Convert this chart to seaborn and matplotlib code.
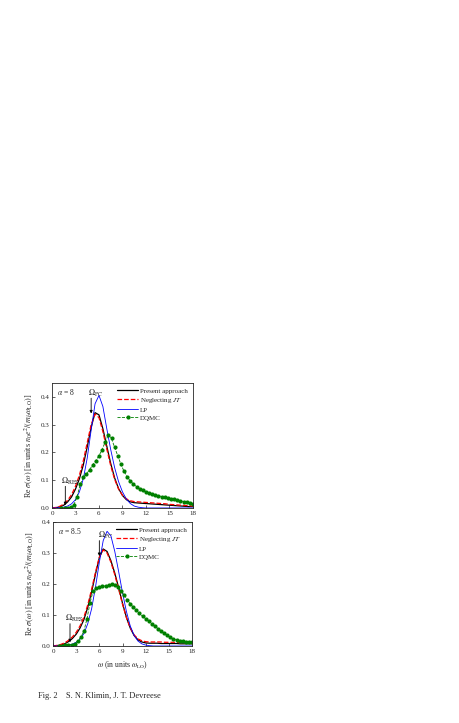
import numpy as np
import pandas as pd
import seaborn as sns
import matplotlib.pyplot as plt

sns.set_style("ticks")
plt.rcParams['font.family'] = ['Liberation Serif', 'DejaVu Serif']
plt.rcParams['mathtext.fontset'] = 'stix'

# smooth curves sampled every 0.5 omega_LO
omega = np.linspace(0, 18, 37)

# alpha = 8
present_8 = [0.000, 0.001, 0.004, 0.010, 0.022, 0.040, 0.068, 0.105, 0.155, 0.220,
             0.290, 0.343, 0.335, 0.285, 0.222, 0.160, 0.108, 0.070, 0.045, 0.030,
             0.022, 0.019, 0.018, 0.017, 0.016, 0.015, 0.014, 0.013, 0.012, 0.011,
             0.010, 0.009, 0.008, 0.007, 0.006, 0.005, 0.005]
neglect_8 = [0.000, 0.002, 0.006, 0.014, 0.028, 0.048, 0.078, 0.118, 0.170, 0.235,
             0.300, 0.338, 0.325, 0.275, 0.212, 0.152, 0.103, 0.068, 0.046, 0.033,
             0.026, 0.023, 0.022, 0.021, 0.020, 0.019, 0.018, 0.017, 0.016, 0.015,
             0.013, 0.012, 0.011, 0.010, 0.009, 0.008, 0.007]
lp_8 = [0.000, 0.000, 0.001, 0.003, 0.007, 0.015, 0.030, 0.058, 0.105, 0.180,
        0.280, 0.375, 0.405, 0.365, 0.285, 0.210, 0.145, 0.095, 0.058, 0.032,
        0.016, 0.007, 0.003, 0.001, 0.000, 0.000, 0.000, 0.000, 0.000, 0.000,
        0.000, 0.000, 0.000, 0.000, 0.000, 0.000, 0.000]
dqmc_x_8 = [1.2, 1.6, 2.0, 2.4, 2.8, 3.2, 3.6, 4.0, 4.4, 4.8, 5.2, 5.6, 6.0, 6.4, 6.8,
            7.2, 7.6, 8.0, 8.4, 8.8, 9.2, 9.6, 10.0, 10.4, 10.8, 11.2, 11.6, 12.0,
            12.4, 12.8, 13.2, 13.6, 14.0, 14.4, 14.8, 15.2, 15.6, 16.0, 16.4, 16.8,
            17.2, 17.6, 18.0]
dqmc_8 = [0.000, 0.000, 0.000, 0.002, 0.012, 0.040, 0.085, 0.110, 0.122, 0.138,
          0.155, 0.170, 0.188, 0.210, 0.238, 0.263, 0.250, 0.218, 0.188, 0.157,
          0.132, 0.112, 0.097, 0.086, 0.077, 0.069, 0.063, 0.058, 0.054, 0.050,
          0.047, 0.044, 0.041, 0.038, 0.036, 0.033, 0.031, 0.028, 0.026, 0.023,
          0.021, 0.018, 0.016]

# alpha = 8.5
present_85 = [0.000, 0.001, 0.003, 0.007, 0.014, 0.024, 0.038, 0.058, 0.085, 0.125,
              0.175, 0.232, 0.285, 0.313, 0.305, 0.275, 0.235, 0.188, 0.138, 0.093,
              0.058, 0.034, 0.020, 0.013, 0.010, 0.009, 0.009, 0.009, 0.008, 0.008,
              0.008, 0.008, 0.008, 0.007, 0.007, 0.007, 0.007]
neglect_85 = [0.000, 0.002, 0.005, 0.010, 0.018, 0.029, 0.044, 0.065, 0.093, 0.133,
              0.183, 0.238, 0.287, 0.310, 0.300, 0.270, 0.230, 0.183, 0.135, 0.092,
              0.059, 0.036, 0.023, 0.017, 0.014, 0.013, 0.013, 0.013, 0.013, 0.012,
              0.012, 0.012, 0.012, 0.011, 0.011, 0.010, 0.010]
lp_85 = [0.000, 0.000, 0.000, 0.001, 0.003, 0.006, 0.012, 0.022, 0.040, 0.072,
         0.120, 0.190, 0.270, 0.340, 0.370, 0.355, 0.305, 0.240, 0.172, 0.112,
         0.065, 0.034, 0.016, 0.007, 0.003, 0.001, 0.000, 0.000, 0.000, 0.000,
         0.000, 0.000, 0.000, 0.000, 0.000, 0.000, 0.000]
dqmc_x_85 = [0.8, 1.2, 1.6, 2.0, 2.4, 2.8, 3.2, 3.6, 4.0, 4.4, 4.8, 5.2, 5.6, 6.0,
             6.4, 6.8, 7.2, 7.6, 8.0, 8.4, 8.8, 9.2, 9.6, 10.0, 10.4, 10.8, 11.2,
             11.6, 12.0, 12.4, 12.8, 13.2, 13.6, 14.0, 14.4, 14.8, 15.2, 15.6, 16.0,
             16.4, 16.8, 17.2, 17.6, 18.0]
dqmc_85 = [0.000, 0.001, 0.002, 0.003, 0.004, 0.007, 0.016, 0.028, 0.048, 0.088,
           0.140, 0.178, 0.188, 0.190, 0.192, 0.194, 0.196, 0.200, 0.198, 0.190,
           0.178, 0.165, 0.150, 0.137, 0.125, 0.115, 0.105, 0.096, 0.088, 0.080,
           0.072, 0.064, 0.056, 0.048, 0.041, 0.034, 0.028, 0.023, 0.019, 0.017,
           0.015, 0.014, 0.014, 0.013]

ylabel = r"Re $\sigma(\omega)$ [in units $n_0e^2/(m_b\omega_{\rm LO})$]"
fs = 5.5

fig = plt.figure(figsize=(4.59, 7.23), dpi=100)
ax1 = fig.add_axes([0.1133, 0.2974, 0.307, 0.173])
ax2 = fig.add_axes([0.1155, 0.1065, 0.3028, 0.1715])


def mark(ax, label, x, y0, y1, tx, ty):
    # vertical arrow pointing down onto the curve, label above it
    ax.annotate("", xy=(x, y1), xytext=(x, y0),
                arrowprops=dict(arrowstyle="-|>", lw=0.6, color="black",
                                mutation_scale=4, shrinkA=0, shrinkB=0))
    ax.text(tx, ty, label, fontsize=fs + 0.5)


def draw(ax, present, neglect, lp, dx, dq, ymax, alpha_txt):
    sns.lineplot(x=omega, y=present, ax=ax, color="black", lw=0.9, label="Present approach")
    sns.lineplot(x=omega, y=neglect, ax=ax, color="red", lw=0.9, ls="--", label="Neglecting $JT$")
    sns.lineplot(x=omega, y=lp, ax=ax, color="blue", lw=0.6, label="LP")
    sns.lineplot(x=dx, y=dq, ax=ax, color="green", lw=0.6, ls="--", marker="o",
                 markersize=3, markeredgewidth=0, label="DQMC")
    ax.set_xlim(0, 18)
    ax.set_ylim(0, ymax)
    ax.set_xticks([0, 3, 6, 9, 12, 15, 18])
    ax.set_yticks([0.0, 0.1, 0.2, 0.3, 0.4])
    ax.set_yticklabels(["0.0", "0.1", "0.2", "0.3", "0.4"])
    ax.tick_params(direction="in", labelsize=fs - 0.5, length=2, width=0.5, pad=2)
    for s in ax.spines.values():
        s.set_linewidth(0.6)
    ax.set_ylabel(ylabel, fontsize=fs + 0.3, labelpad=4)
    ax.text(0.6, ymax * 0.9, alpha_txt, fontsize=fs)
    ax.legend(loc="upper right", frameon=False, fontsize=fs - 0.5,
              handlelength=3.0, labelspacing=0.3, borderaxespad=0.3, handletextpad=0.3)


draw(ax1, present_8, neglect_8, lp_8, dqmc_x_8, dqmc_8, 0.45, r"$\alpha$ = 8")
mark(ax1, r"$\Omega_{\rm PC}$", 5.0, 0.395, 0.34, 4.6, 0.405)
mark(ax1, r"$\Omega_{\rm RES}$", 1.7, 0.078, 0.01, 1.2, 0.088)
draw(ax2, present_85, neglect_85, lp_85, dqmc_x_85, dqmc_85, 0.4, r"$\alpha$ = 8.5")
mark(ax2, r"$\Omega_{\rm PC}$", 6.0, 0.34, 0.29, 5.8, 0.35)
mark(ax2, r"$\Omega_{\rm RES}$", 2.2, 0.072, 0.012, 1.6, 0.08)
ax1.set_xlabel("")
ax2.set_xlabel(r"$\omega$ (in units $\omega_{\rm LO}$)", fontsize=fs, labelpad=4)

fig.text(0.083, 0.034, "Fig. 2    S. N. Klimin, J. T. Devreese", fontsize=6)

fig.savefig("out.png", dpi=100)
